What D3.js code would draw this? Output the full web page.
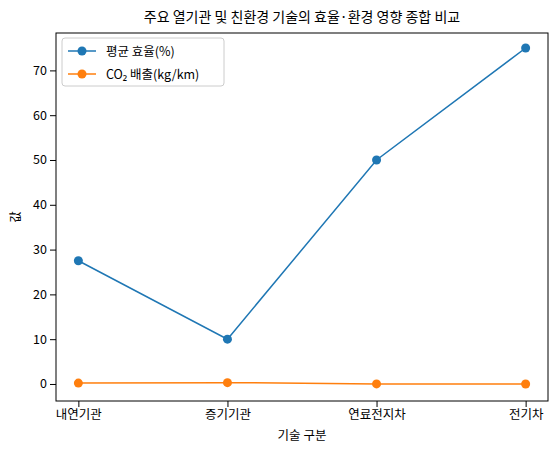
<!DOCTYPE html><html><head><meta charset="utf-8"><script src="https://cdn.jsdelivr.net/npm/d3@7"></script>
<style>body{margin:0;background:#fff}text{font-family:"Noto Sans CJK KR","Noto Sans",sans-serif}</style></head><body>
<svg id="c" width="560" height="454"></svg>
<script>
const categories=["내연기관","증기기관","연료전지차","전기차"];
const efficiency=[27.5,10,50,75];
const co2=[0.2,0.3,0.02,0.0];
const yTicks=[0,10,20,30,40,50,60,70];
const seriesNames=["평균 효율(%)","CO₂ 배출(kg/km)"];
const colors=["#1f77b4","#ff7f0e"];
const svg=d3.select("#c");
const L=56,R=548,T=33,B=401;
const x=d3.scalePoint().domain(categories).range([L,R]).padding(0.15);
const y=d3.scaleLinear().domain([-3.8,78.35]).range([B,T]);
svg.append("g").attr("transform",`translate(0,${B})`).call(d3.axisBottom(x).tickSizeOuter(0)).selectAll("text").attr("font-size",12.5).attr("fill","#000");
svg.append("g").attr("transform",`translate(${L},0)`).call(d3.axisLeft(y).tickValues(yTicks).tickSizeOuter(0)).selectAll("text").attr("font-size",12.5).attr("fill","#000");
svg.selectAll(".domain").remove();
svg.append("rect").attr("x",L).attr("y",T).attr("width",R-L).attr("height",B-T).attr("fill","none").attr("stroke","#000").attr("stroke-width",1);
[efficiency,co2].forEach((s,i)=>{
 const line=d3.line().x((d,j)=>x(categories[j])).y(d=>y(d));
 svg.append("path").datum(s).attr("d",line).attr("fill","none").attr("stroke",colors[i]).attr("stroke-width",1.5);
 svg.selectAll(null).data(s).enter().append("circle").attr("cx",(d,j)=>x(categories[j])).attr("cy",d=>y(d)).attr("r",4.5).attr("fill",colors[i]);
});
svg.append("text").attr("x",(L+R)/2).attr("y",22).attr("text-anchor","middle").attr("font-size",14).text("주요 열기관 및 친환경 기술의 효율·환경 영향 종합 비교");
svg.append("text").attr("x",(L+R)/2).attr("y",440).attr("text-anchor","middle").attr("font-size",12.5).text("기술 구분");
svg.append("text").attr("transform",`translate(20,${(T+B)/2}) rotate(-90)`).attr("text-anchor","middle").attr("font-size",12.5).text("값");
const lg=svg.append("g").attr("transform",`translate(62,38)`);
lg.append("rect").attr("width",162).attr("height",48).attr("rx",3).attr("fill","#fff").attr("stroke","#ccc");
seriesNames.forEach((n,i)=>{
 const yy=13+i*23;
 lg.append("line").attr("x1",6).attr("x2",34).attr("y1",yy).attr("y2",yy).attr("stroke",colors[i]).attr("stroke-width",1.5);
 lg.append("circle").attr("cx",20).attr("cy",yy).attr("r",4.5).attr("fill",colors[i]);
 lg.append("text").attr("x",44).attr("y",yy+4.5).attr("font-size",12.5).text(n);
});
</script></body></html>
